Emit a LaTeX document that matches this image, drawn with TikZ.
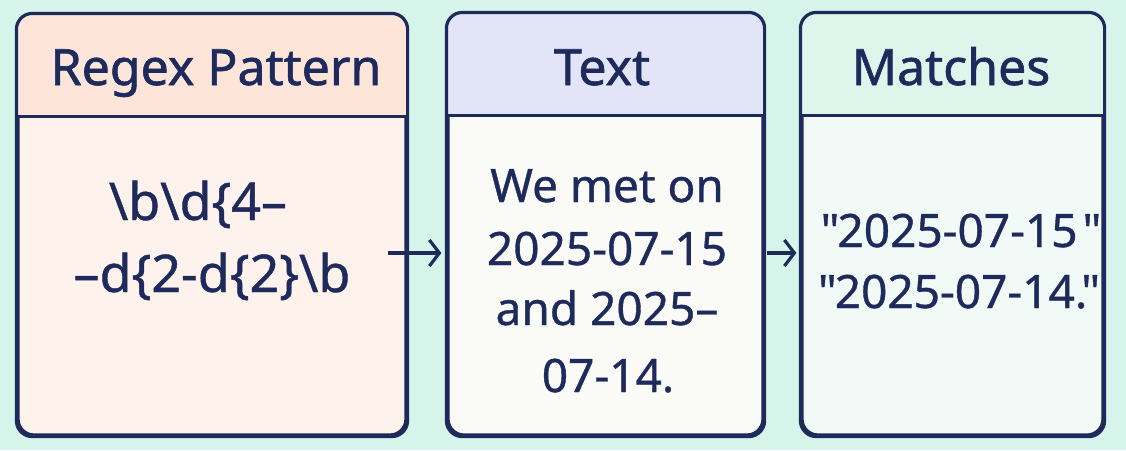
\documentclass[tikz,border=0pt]{standalone}
\usepackage{fontspec}
\usetikzlibrary{arrows.meta}
\setmainfont{Noto Sans}
\newfontfamily\headfont{Noto Sans}[BoldFont={Noto Sans}, BoldFeatures={FakeBold=1.2}]
\newfontfamily\bodyfont{Noto Sans}[BoldFont={Noto Sans}, BoldFeatures={FakeBold=0.8}]
\definecolor{bg}{HTML}{D7F4EA}
\definecolor{ink}{HTML}{1E2A5C}
\definecolor{hA}{HTML}{FDE5D9}
\definecolor{bA}{HTML}{FDF2EC}
\definecolor{hB}{HTML}{E2E4F8}
\definecolor{bB}{HTML}{FAFAF6}
\definecolor{hC}{HTML}{DDF5EB}
\definecolor{bC}{HTML}{F1FAF6}
\tikzset{
  panel/.style={draw=ink, line width=3.2pt, rounded corners=16pt, inner sep=0pt},
  rim/.style={draw=ink, line width=3.2pt, rounded corners=16pt},
  divider/.style={draw=ink, line width=3pt},
  head/.style={text=ink, anchor=base, inner sep=0pt, font=\headfont\bfseries\fontsize{50}{60}\selectfont},
  body/.style={text=ink, anchor=base, inner sep=0pt, font=\bodyfont\bfseries\fontsize{46}{56}\selectfont},
  bodybig/.style={body, font=\bodyfont\bfseries\fontsize{52}{62}\selectfont},
  arr/.style={draw=ink, line width=3.2pt, -{Straight Barb[length=10pt,width=26pt,line width=3.2pt]}}
}
\begin{document}
\begin{tikzpicture}[x=1pt,y=-1pt]
\useasboundingbox (0,0) rectangle (1126,450);
\fill[bg] (0,0) rectangle (1126,450);

% panel A
\node[panel, fill=bA, minimum width=388pt, minimum height=420pt] (p) at (212,225) {};
\begin{scope}
\clip[rounded corners=16pt] (p.south west) rectangle (p.north east);
\fill[hA] (p.north west) rectangle ([yshift=-103pt]p.north east);
\end{scope}
\draw[divider] ([yshift=-103pt]p.north west) -- ([yshift=-103pt]p.north east);
\draw[rim] (p.south west) rectangle (p.north east);

% panel B
\node[panel, fill=bB, minimum width=315pt, minimum height=421pt] (t) at (605.5,224.5) {};
\begin{scope}
\clip[rounded corners=16pt] (t.south west) rectangle (t.north east);
\fill[hB] (t.north west) rectangle ([yshift=-103pt]t.north east);
\end{scope}
\draw[divider] ([yshift=-103pt]t.north west) -- ([yshift=-103pt]t.north east);
\draw[rim] (t.south west) rectangle (t.north east);

% panel C
\node[panel, fill=bC, minimum width=301pt, minimum height=421pt] (m) at (952.5,224.5) {};
\begin{scope}
\clip[rounded corners=16pt] (m.south west) rectangle (m.north east);
\fill[hC] (m.north west) rectangle ([yshift=-103pt]m.north east);
\end{scope}
\draw[divider] ([yshift=-103pt]m.north west) -- ([yshift=-103pt]m.north east);
\draw[rim] (m.south west) rectangle (m.north east);

% titles
\node[head] (pt) at (216,85) {Regex Pattern};
\node[head] (tt) at (602,85) {Text};
\node[head] (mt) at (951,85) {Matches};

% pattern text
\node[bodybig] (p1) at (198,220) {\textbackslash b\textbackslash d\{4–};
\node[bodybig] (p2) at (212,292) {–d\{2-d\{2\}\textbackslash b};

% text
\node[body] (t1) at (607,202) {We met on};
\node[body] (t2) at (607,265) {2025-07-15};
\node[body] (t3) at (607,325) {and 2025–};
\node[body] (t4) at (608,392) {07-14.};

% matches
\node[body] (m1) at (961,247) {"\kern-2pt2025-07-15\kern5pt"};
\node[body] (m2) at (959,308) {"\kern-2pt2025-07-14.\kern-6pt"};

% arrows
\draw[arr] ([xshift=-20pt,yshift=-28pt]p.east) -- ([xshift=-5pt,yshift=-28.5pt]t.west);
\draw[arr] ([xshift=2pt,yshift=-28.5pt]t.east) -- ([xshift=-4pt,yshift=-28.5pt]m.west);
\end{tikzpicture}
\end{document}
